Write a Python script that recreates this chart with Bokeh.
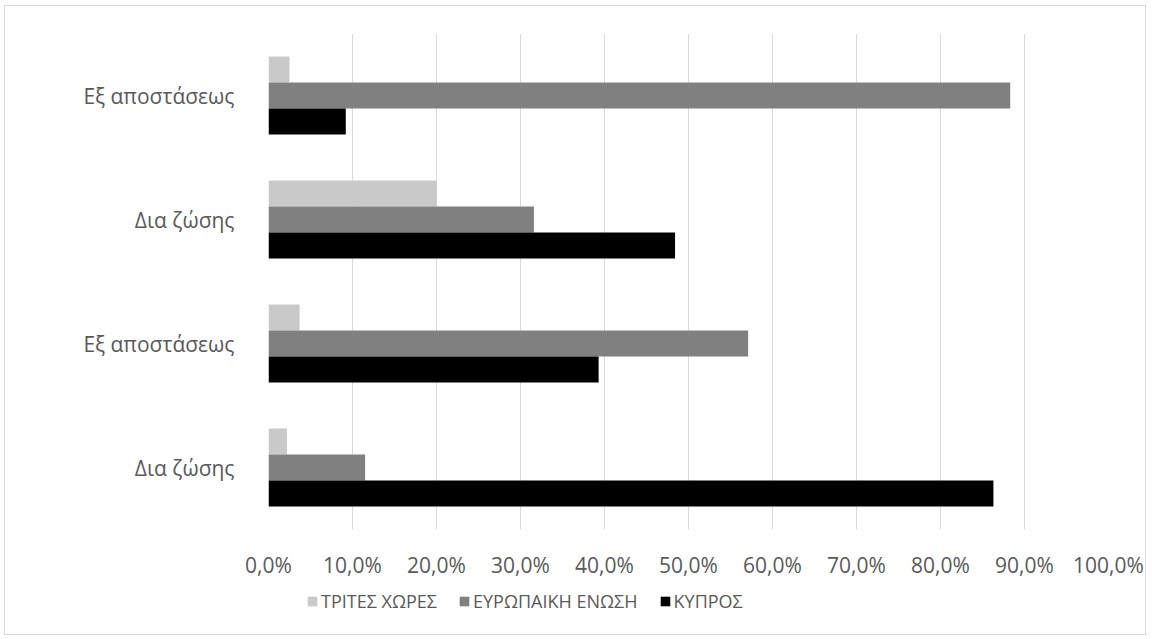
from bokeh.plotting import figure
from bokeh.layouts import column
from bokeh.models import ColumnDataSource, Legend, LegendItem, FixedTicker, CustomJSTickFormatter
from bokeh.transform import dodge
from bokeh.embed import file_html
from bokeh.resources import INLINE

categories = ["Δια ζώσης", "Εξ αποστάσεως", "Δια ζώσης", "Εξ αποστάσεως"]  # bottom to top
tritès = [2.2, 3.7, 20.0, 2.5]
europe = [11.5, 57.1, 31.6, 88.3]
kypros = [86.3, 39.3, 48.4, 9.2]
series_names = ["ΤΡΙΤΕΣ ΧΩΡΕΣ", "ΕΥΡΩΠΑΙΚΗ ΕΝΩΣΗ", "ΚΥΠΡΟΣ"]
series_cols = ["t", "e", "k"]
series_colors = ["#c9c9c9", "#808080", "#000000"]
x_ticks = [0, 10, 20, 30, 40, 50, 60, 70, 80, 90, 100]

ypos = list(range(len(categories)))
src = ColumnDataSource(dict(y=ypos, t=tritès, e=europe, k=kypros))

FONT = "Open Sans"
TXT = "#595959"

p = figure(width=1140, height=573, output_backend="svg", toolbar_location=None,
           x_range=(0, 100), y_range=(-0.5, 3.5),
           frame_width=840, frame_height=496,
           min_border_left=263, min_border_right=37, min_border_top=27, min_border_bottom=50)
p.outline_line_color = None
p.background_fill_color = "white"

h = 0.21
offsets = [h, 0, -h]
for col, color, off in zip(series_cols, series_colors, offsets):
    p.hbar(y=dodge("y", off, range=p.y_range), right=col, left=0, height=h, source=src,
           fill_color=color, line_color=None)

# x axis
p.xaxis.ticker = FixedTicker(ticks=x_ticks)
p.xaxis.formatter = CustomJSTickFormatter(code="return tick.toFixed(1).replace('.', ',') + '%';")
p.xaxis.axis_line_color = None
p.xaxis.major_tick_line_color = None
p.xaxis.minor_tick_line_color = None
p.xaxis.major_label_text_font = FONT
p.xaxis.major_label_text_font_size = "21px"
p.xaxis.major_label_text_color = TXT
p.xaxis.major_label_standoff = 15

# y axis
p.yaxis.ticker = FixedTicker(ticks=ypos)
p.yaxis.major_label_overrides = {i: c for i, c in enumerate(categories)}
p.yaxis.axis_line_color = None
p.yaxis.major_tick_line_color = None
p.yaxis.minor_tick_line_color = None
p.yaxis.major_label_text_font = FONT
p.yaxis.major_label_text_font_size = "21px"
p.yaxis.major_label_text_color = TXT
p.yaxis.major_label_standoff = 28

p.xgrid.ticker = FixedTicker(ticks=x_ticks)
p.xgrid.grid_line_color = "#d9d9d9"
p.xgrid.grid_line_width = 1
p.ygrid.grid_line_color = None

# legend strip below the chart (its own bars lie outside its range, only the legend shows)
lg = figure(width=1140, height=53, output_backend="svg", toolbar_location=None,
            x_range=(0, 100), y_range=(100, 101), min_border=0)
lg.axis.visible = False
lg.grid.grid_line_color = None
lg.outline_line_color = None
items = []
for name, col, color in zip(series_names, series_cols, series_colors):
    r = lg.hbar(y="y", right=col, left=0, height=h, source=src, fill_color=color, line_color=None)
    items.append(LegendItem(label=name, renderers=[r]))

legend = Legend(items=items, orientation="horizontal", location=(38, 21),
                label_text_font=FONT, label_text_font_size="18px", label_text_color=TXT,
                glyph_width=12, glyph_height=12, spacing=21, label_standoff=3,
                border_line_color=None, background_fill_alpha=0, padding=4, margin=0)
lg.add_layout(legend, "center")

layout = column(p, lg, spacing=0)
layout.styles = {"border": "1px solid #d9d9d9", "margin-left": "4px", "margin-top": "5px"}

open("out.html", "w").write(file_html(layout, INLINE))
